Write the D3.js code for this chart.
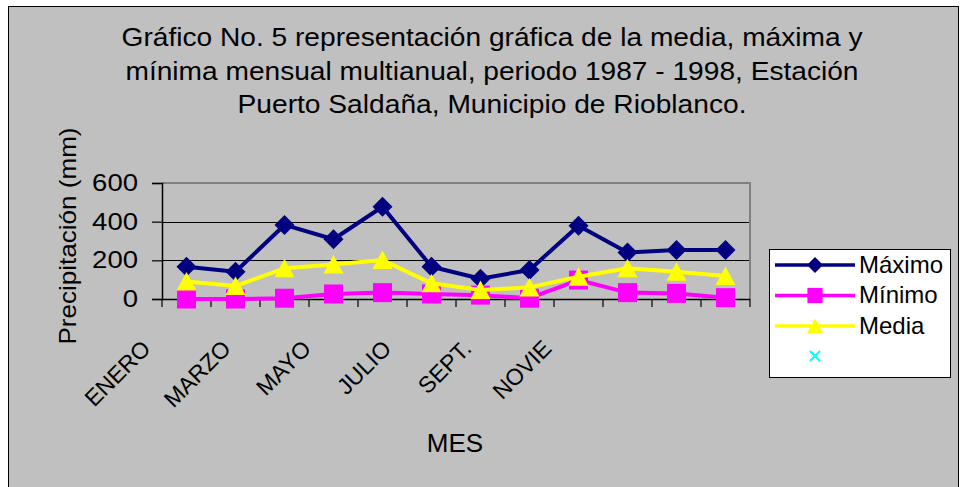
<!DOCTYPE html>
<html>
<head>
<meta charset="utf-8">
<script src="https://cdn.jsdelivr.net/npm/d3@7.9.0/dist/d3.min.js"></script>
<style>
  body { margin: 0; background: #fff; }
  svg { display: block; font-family: Arial, "Liberation Sans", sans-serif; }
</style>
</head>
<body>
<svg id="chart" width="966" height="487"></svg>
<script>
// month categories (only every other one gets a label in the original)
const months = ['ENERO', 'FEBRERO', 'MARZO', 'ABRIL', 'MAYO', 'JUNIO',
  'JULIO', 'AGOSTO', 'SEPT.', 'OCTUBRE', 'NOVIE', 'DICIE'];
const shownLabels = ['ENERO', 'MARZO', 'MAYO', 'JULIO', 'SEPT.', 'NOVIE'];

const maximo = [167, 141, 383, 309, 477, 167, 105, 150, 379, 241, 253, 253];
const minimo = [0, 0, 4, 26, 33, 26, 20, 4, 98, 33, 29, 7];
const media = [90, 67, 159, 179, 202, 81, 47, 60, 115, 159, 141, 119];

const yTicks = [0, 200, 400, 600];
const titleLines = [
  'Gráfico No. 5 representación gráfica de la media, máxima y',
  'mínima mensual multianual, periodo 1987 - 1998, Estación',
  'Puerto Saldaña, Municipio de Rioblanco.'
];
// the original text is drawn a little wider than Arial, so fix line widths
const titleWidths = [741, 733, 509];

const series = [
  { name: 'Máximo', values: maximo, color: '#000080', marker: 'diamond' },
  { name: 'Mínimo', values: minimo, color: '#FF00FF', marker: 'square' },
  { name: 'Media', values: media, color: '#FFFF00', marker: 'triangle' }
];

const svg = d3.select('#chart');
const plot = { left: 162, right: 750, top: 183, bottom: 299 };

// chart background + border
svg.append('rect')
  .attr('x', 8.5).attr('y', 6.5)
  .attr('width', 950).attr('height', 500)
  .attr('fill', '#C0C0C0')
  .attr('stroke', '#000').attr('stroke-width', 1);

// title
svg.append('g').selectAll('text')
  .data(titleLines)
  .join('text')
  .attr('x', 492)
  .attr('y', (d, i) => 46 + i * 33.5)
  .attr('text-anchor', 'middle')
  .attr('font-size', 25.5)
  .attr('textLength', (d, i) => titleWidths[i])
  .attr('lengthAdjust', 'spacingAndGlyphs')
  .attr('fill', '#000')
  .text(d => d);

const x = d3.scaleBand().domain(months).range([plot.left, plot.right]);
const y = d3.scaleLinear().domain([0, 600]).range([plot.bottom, plot.top]);
// the rotated month labels sit on their own, tighter spacing in the picture
const labelX = d3.scalePoint().domain(months).range([152, 593]);

// gridlines
svg.append('g')
  .selectAll('line')
  .data([200, 400])
  .join('line')
  .attr('x1', plot.left).attr('x2', plot.right)
  .attr('y1', d => Math.round(y(d)) + 0.5).attr('y2', d => Math.round(y(d)) + 0.5)
  .attr('stroke', '#000').attr('stroke-width', 1);

// plot frame top/right
svg.append('path')
  .attr('d', `M${plot.left},${plot.top}H${plot.right}V${plot.bottom}`)
  .attr('fill', 'none')
  .attr('stroke', '#808080')
  .attr('stroke-width', 2);

// y axis
const yAxis = svg.append('g')
  .attr('transform', `translate(${plot.left},0)`)
  .call(d3.axisLeft(y).tickValues(yTicks).tickSize(10).tickPadding(14));
yAxis.select('.domain').attr('stroke', '#000').attr('stroke-width', 1.5);
yAxis.selectAll('.tick line').attr('stroke', '#000').attr('stroke-width', 1.2);
yAxis.selectAll('.tick text')
  .attr('font-size', 23.5)
  .attr('font-family', 'Arial, "Liberation Sans", sans-serif')
  .attr('textLength', d => String(d).length * 15.3)
  .attr('lengthAdjust', 'spacingAndGlyphs')
  .attr('fill', '#000');

// x axis line + ticks at category boundaries
svg.append('line')
  .attr('x1', plot.left).attr('x2', plot.right)
  .attr('y1', plot.bottom + 0.5).attr('y2', plot.bottom + 0.5)
  .attr('stroke', '#000').attr('stroke-width', 1.5);
svg.append('g')
  .selectAll('line')
  .data(months.map(m => x(m)).concat([x.range()[1]]))
  .join('line')
  .attr('x1', d => d).attr('x2', d => d)
  .attr('y1', plot.bottom).attr('y2', plot.bottom + 8)
  .attr('stroke', '#000').attr('stroke-width', 1.2);

// rotated month labels
svg.append('g')
  .selectAll('text')
  .data(shownLabels)
  .join('text')
  .attr('transform', d => `translate(${labelX(d)},350) rotate(-45)`)
  .attr('text-anchor', 'end')
  .attr('font-size', 23)
  .attr('fill', '#000')
  .text(d => d);

// axis titles
svg.append('text')
  .attr('transform', 'translate(76,236) rotate(-90)')
  .attr('text-anchor', 'middle')
  .attr('font-size', 24)
  .attr('textLength', 217)
  .attr('lengthAdjust', 'spacingAndGlyphs')
  .text('Precipitación (mm)');

svg.append('text')
  .attr('x', 455).attr('y', 452)
  .attr('text-anchor', 'middle')
  .attr('font-size', 26)
  .text('MES');

// marker shapes
const markerPath = {
  diamond: 'M0,-10L10,0L0,10L-10,0Z',
  square: 'M-9.5,-9.5H9.5V9.5H-9.5Z',
  triangle: 'M0,-9.5L10,9H-10Z'
};

const cx = (d, i) => x(months[i]) + x.bandwidth() / 2;
const line = d3.line().x(cx).y(d => y(d));

series.forEach(s => {
  const g = svg.append('g');
  g.append('path')
    .datum(s.values)
    .attr('d', line)
    .attr('fill', 'none')
    .attr('stroke', s.color)
    .attr('stroke-width', 4)
    .attr('stroke-linejoin', 'round');
  g.selectAll('path.marker')
    .data(s.values)
    .join('path')
    .attr('class', 'marker')
    .attr('d', markerPath[s.marker])
    .attr('transform', (d, i) => `translate(${cx(d, i)},${y(d)})`)
    .attr('fill', s.color);
});

// legend
const legend = svg.append('g');
legend.append('rect')
  .attr('x', 769.5).attr('y', 249.5)
  .attr('width', 181).attr('height', 128)
  .attr('fill', '#fff')
  .attr('stroke', '#000').attr('stroke-width', 1);

const legendRows = legend.selectAll('g.row')
  .data(series)
  .join('g')
  .attr('class', 'row')
  .attr('transform', (d, i) => `translate(0,${265 + i * 30.5})`);
legendRows.append('line')
  .attr('x1', 775).attr('x2', 855)
  .attr('stroke', d => d.color).attr('stroke-width', 3.5);
legendRows.append('path')
  .attr('d', d => markerPath[d.marker])
  .attr('transform', 'translate(815,0) scale(0.8)')
  .attr('fill', d => d.color);
legendRows.append('text')
  .attr('x', 859).attr('y', 7.5)
  .attr('font-size', 24)
  .text(d => d.name);

// empty fourth series marker shown in the legend
legend.append('path')
  .attr('d', 'M-5,-5L5,5M5,-5L-5,5')
  .attr('transform', 'translate(815,356)')
  .attr('stroke', '#00FFFF').attr('stroke-width', 2);
</script>
</body>
</html>
